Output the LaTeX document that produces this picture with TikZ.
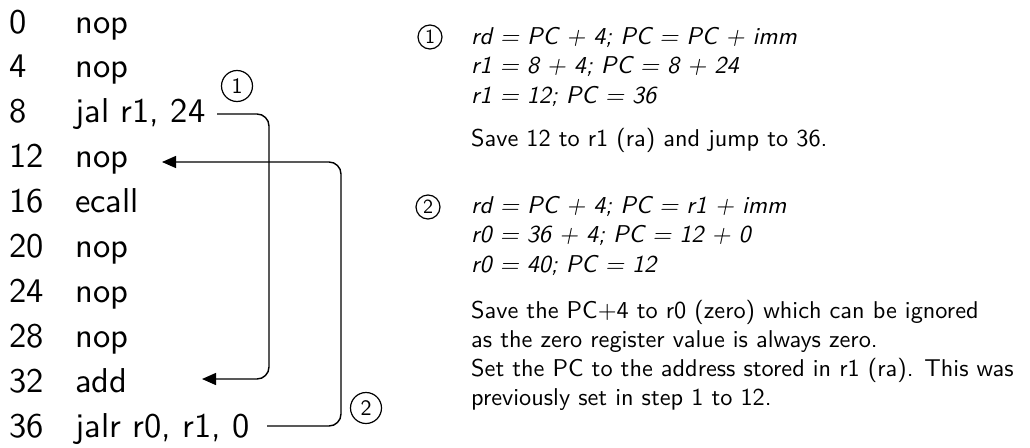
\documentclass[tikz,border=0pt]{standalone}
\usepackage{fontspec}
\setsansfont{lmsans10-regular.otf}[ItalicFont=lmsans10-oblique.otf]
\usetikzlibrary{arrows.meta}
\begin{document}
\begin{tikzpicture}[x=1pt,y=-1pt,
  big/.style={font=\sffamily\fontsize{34.5}{41}\selectfont, inner sep=0pt, anchor=base west},
  small/.style={font=\sffamily\fontsize{24.3}{29.4}\selectfont, inner sep=0pt, anchor=base west},
  eq/.style={font=\sffamily\itshape\fontsize{24.3}{29.4}\selectfont, inner sep=0pt, anchor=base west},
  bigcirc/.style={draw, circle, line width=1.2pt, inner sep=0pt, minimum size=31pt, font=\sffamily\fontsize{22}{26}\selectfont},
  smallcirc/.style={draw, circle, line width=1.2pt, inner sep=0pt, minimum size=24pt, font=\sffamily\fontsize{20}{24}\selectfont},
  jump/.style={line width=1.4pt, rounded corners=12pt, -{Triangle[length=14pt,width=12pt]}}]
\useasboundingbox (0,0) rectangle (1030,447);
% addresses
\foreach \a [count=\i from 0] in {0,4,8,12,16,20,24,28,32,36}{
  \node[big] (n\a) at (9.5,{33+44.9*\i}) {\a};
}
\node[big] (i0) at (75,33) {nop};
\node[big] (i4) at (75,77.9) {nop};
\node[big] (i8) at (75,122.8) {jal r1, 24};
\node[big] (i12) at (75,167.7) {nop};
\node[big] (i16) at (75,212.6) {ecall};
\node[big] (i20) at (75,257.5) {nop};
\node[big] (i24) at (75,302.4) {nop};
\node[big] (i28) at (75,347.3) {nop};
\node[big] (i32) at (75,392.2) {add};
\node[big] (i36) at (75,437.1) {jalr r0, r1, 0};
% jump markers
\node[bigcirc] (c1) at (237,86) {1};
\node[bigcirc] (c2) at (366,408) {2};
% connectors
\coordinate (s1) at (217,114);
\coordinate (v1) at (269,250);
\coordinate (t1) at (202,379);
\draw[jump] (s1) -| (v1) |- (t1);
\coordinate (s2) at (267,426);
\coordinate (v2) at (341,300);
\coordinate (t2) at (162,162);
\draw[jump] (s2) -| (v2) |- (t2);
% right explanations
\node[smallcirc] (r1) at (430,37) {1};
\node[eq] (e1a) at (471,44) {rd = PC + 4; PC = PC + imm};
\node[eq] (e1b) at (471,73.5) {r1 = 8 + 4; PC = 8 + 24};
\node[eq] (e1c) at (471,103) {r1 = 12; PC = 36};
\node[small] (d1) at (471,146) {Save 12 to r1 (ra) and jump to 36.};
\node[smallcirc] (r2) at (428,207) {2};
\node[eq] (e2a) at (471,213) {rd = PC + 4; PC = r1 + imm};
\node[eq] (e2b) at (471,242.5) {r0 = 36 + 4; PC = 12 + 0};
\node[eq] (e2c) at (471,272) {r0 = 40; PC = 12};
\node[small] (d2a) at (471,318) {Save the PC+4 to r0 (zero) which can be ignored};
\node[small] (d2b) at (471,347.3) {as the zero register value is always zero.};
\node[small] (d2c) at (471,376.6) {Set the PC to the address stored in r1 (ra). This was};
\node[small] (d2d) at (471,405.9) {previously set in step 1 to 12.};
\end{tikzpicture}
\end{document}
